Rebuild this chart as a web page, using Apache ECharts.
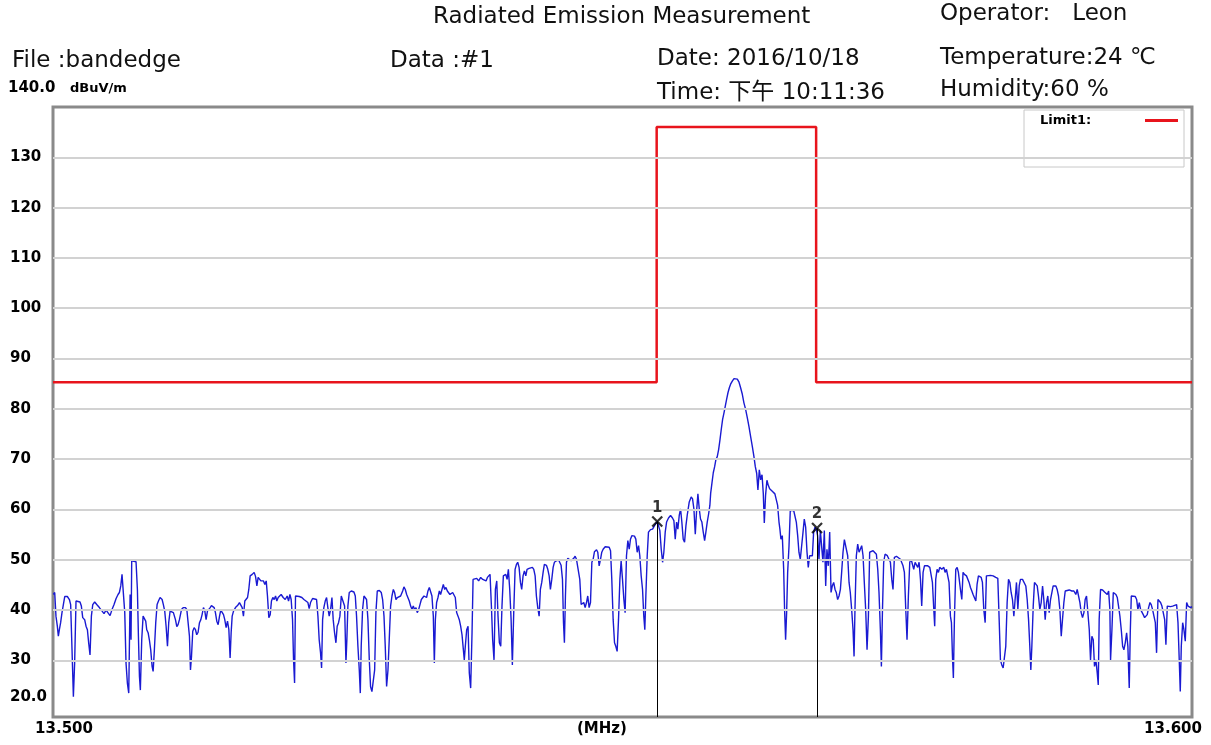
<!DOCTYPE html>
<html>
<head>
<meta charset="utf-8">
<title>Radiated Emission Measurement</title>
<script src="https://cdn.jsdelivr.net/npm/echarts@6.0.0/dist/echarts.min.js"></script>
<style>
html, body { margin: 0; padding: 0; background: #fff; }
#main { width: 1211px; height: 745px; }
</style>
</head>
<body>
<div id="main"></div>
<script>
// sweep start, MHz ; trace points are [kHz above start, dBuV/m]
var startMHz = 13.5;
var stopMHz = 13.6;
var trace = [
[0.03,43.1],[0.15,43.5],[0.26,38.8],[0.38,36.8],[0.47,34.8],[0.56,36.1],[0.67,37.5],[0.79,39.5],[0.91,41.1],[1.03,42.7],
[1.26,42.7],[1.44,42.1],[1.55,41.1],[1.67,32.1],[1.79,22.8],[1.90,29.5],[2.02,41.8],[2.37,41.6],[2.49,40.8],[2.61,38.5],
[2.78,38.1],[2.90,36.8],[3.02,36.1],[3.13,33.5],[3.25,31.1],[3.37,38.8],[3.49,41.1],[3.66,41.6],[3.84,41.1],[4.07,40.5],
[4.31,39.8],[4.48,39.3],[4.66,40.0],[4.83,40.1],[5.01,38.9],[5.18,40.1],[5.36,41.1],[5.54,42.3],[5.71,43.1],[5.83,43.5],
[5.95,44.8],[6.06,47.1],[6.18,46.8],[6.30,39.5],[6.41,29.5],[6.53,25.5],[6.65,23.5],[6.77,43.1],[6.85,34.1],[6.91,49.8],
[7.29,49.6],[7.41,44.1],[7.50,34.8],[7.59,26.8],[7.67,24.1],[7.79,34.1],[7.91,38.8],[8.03,39.1],[8.14,37.8],[8.23,36.1],
[8.35,35.5],[8.46,34.1],[8.58,32.1],[8.70,28.8],[8.79,27.8],[8.90,32.1],[9.02,37.5],[9.14,41.1],[9.26,41.8],[9.40,42.5],
[9.58,42.1],[9.69,41.1],[9.81,39.8],[9.93,36.8],[10.05,32.8],[10.16,37.5],[10.28,39.8],[10.40,40.1],[10.57,39.5],[10.75,38.1],
[10.87,36.7],[10.98,37.1],[11.10,38.1],[11.28,40.1],[11.45,40.5],[11.63,40.5],[11.75,40.1],[11.86,39.8],[11.98,34.8],[12.07,28.1],
[12.16,30.8],[12.27,35.8],[12.39,36.5],[12.51,36.1],[12.62,35.1],[12.74,35.6],[12.86,37.5],[12.98,38.1],[13.09,39.1],[13.21,40.5],
[13.33,39.8],[13.44,38.1],[13.56,39.8],[13.68,40.1],[13.80,40.5],[13.91,40.9],[14.03,41.1],[14.15,40.5],[14.26,39.5],[14.38,37.8],
[14.50,37.1],[14.62,38.8],[14.73,40.0],[14.85,39.8],[14.97,39.1],[15.08,38.1],[15.20,36.5],[15.32,37.8],[15.44,36.1],[15.55,30.5],
[15.64,35.5],[15.73,38.8],[15.85,39.8],[16.02,40.5],[16.20,40.9],[16.37,41.5],[16.49,41.8],[16.61,40.5],[16.72,38.8],[16.84,41.8],
[16.96,42.1],[17.08,42.5],[17.19,44.1],[17.31,46.8],[17.49,47.1],[17.66,47.5],[17.78,46.7],[17.90,44.8],[18.01,46.5],[18.13,46.7],
[18.25,45.8],[18.37,46.1],[18.48,45.8],[18.60,45.1],[18.72,45.8],[18.83,42.8],[18.95,38.5],[19.07,39.1],[19.18,41.8],[19.30,42.5],
[19.42,42.1],[19.54,42.8],[19.65,41.8],[19.77,42.5],[19.89,42.8],
[20.03,43.1],[20.21,42.5],[20.39,42.1],[20.56,42.8],[20.68,41.8],[20.80,43.1],[20.91,42.1],[21.03,38.1],[21.12,30.1],[21.21,25.5],
[21.29,42.8],[21.44,42.9],[21.62,42.7],[21.85,42.5],[22.03,42.1],[22.20,41.8],[22.38,41.5],[22.49,40.3],[22.61,41.5],[22.79,42.3],
[22.96,42.1],[23.14,42.1],[23.26,38.8],[23.37,34.1],[23.49,31.5],[23.58,28.5],[23.67,38.1],[23.78,40.5],[23.90,41.8],[24.02,42.5],
[24.13,40.5],[24.25,38.8],[24.37,40.1],[24.49,42.5],[24.60,38.1],[24.72,35.5],[24.84,33.5],[24.95,36.8],[25.07,37.5],[25.19,38.8],
[25.31,42.8],[25.48,43.1],[25.60,40.8],[25.72,29.5],[25.80,34.1],[25.89,40.8],[26.01,43.5],[26.19,43.8],[26.42,43.6],[26.54,42.8],
[26.65,38.8],[26.77,32.8],[26.89,28.1],[26.98,23.5],[27.06,32.8],[27.18,40.1],[27.30,42.8],[27.41,43.1],[27.53,42.1],[27.65,38.1],
[27.77,30.1],[27.88,24.8],[28.00,23.8],[28.12,23.5],[28.24,28.1],[28.35,39.5],[28.47,43.8],[28.65,43.9],[28.82,43.5],[28.94,42.1],
[29.06,38.8],[29.17,32.8],[29.29,24.8],[29.41,28.1],[29.52,34.1],[29.64,40.8],[29.76,42.8],[29.88,44.1],[29.99,43.5],[30.11,42.1],
[30.23,42.5],[30.34,42.8],[30.52,42.8],[30.70,43.8],[30.81,44.6],[30.93,44.1],[31.05,43.1],[31.16,42.8],[31.28,41.8],[31.40,40.8],
[31.52,40.1],[31.63,40.8],[31.75,40.1],[31.87,40.5],[31.98,39.5],[32.10,40.1],[32.22,41.1],[32.34,42.1],[32.45,41.8],[32.57,42.8],
[32.69,43.1],[32.80,42.5],[32.92,43.8],[33.04,44.5],[33.16,44.8],[33.27,42.8],[33.39,38.8],[33.48,29.5],[33.57,38.1],[33.68,41.5],
[33.80,42.5],[33.92,43.8],[34.03,43.1],[34.15,44.1],[34.27,45.1],[34.39,44.1],[34.50,44.5],[34.62,43.8],[34.74,44.1],[34.85,43.1],
[34.97,42.8],[35.09,43.5],[35.21,43.8],[35.32,42.5],[35.44,39.5],[35.56,38.8],[35.67,38.1],[35.79,36.8],[35.91,35.1],[36.03,32.1],
[36.11,30.1],[36.20,32.8],[36.32,36.1],[36.44,36.8],[36.55,27.5],[36.67,24.5],[36.79,35.5],[36.88,46.1],[37.02,45.8],[37.20,46.3],
[37.37,45.8],[37.55,46.5],[37.73,46.1],[37.90,46.3],[38.02,45.8],[38.14,46.5],[38.25,46.8],[38.37,47.1],[38.49,40.8],[38.60,34.1],
[38.72,30.1],[38.84,44.1],[38.96,45.8],[39.07,38.8],[39.19,33.5],[39.31,32.8],[39.42,40.8],[39.54,46.8],[39.66,46.5],
[39.75,47.1],[39.87,46.1],[39.98,48.1],[40.10,44.1],[40.22,38.1],[40.33,29.1],[40.45,39.5],[40.57,48.1],[40.69,49.1],[40.80,49.5],
[40.92,48.5],[41.04,45.5],[41.15,44.1],[41.27,46.8],[41.39,47.8],[41.51,46.8],[41.62,48.1],[41.80,48.3],[41.97,48.1],[42.09,48.5],
[42.21,48.1],[42.33,46.8],[42.44,42.8],[42.56,40.5],[42.68,38.8],[42.79,44.1],[42.91,45.5],[43.03,47.5],[43.14,49.1],[43.32,48.9],
[43.44,48.1],[43.56,46.8],[43.67,44.1],[43.79,46.1],[43.91,48.5],[44.02,49.5],[44.20,49.8],[44.38,50.0],[44.49,49.8],[44.61,48.9],
[44.73,46.1],[44.82,37.5],[44.90,33.5],[44.99,42.8],[45.08,49.5],[45.20,50.3],[45.37,50.0],[45.49,49.8],[45.61,50.1],[45.72,50.3],
[45.84,50.7],[45.96,50.1],[46.13,49.8],[46.25,46.1],[46.37,41.1],[46.49,40.8],[46.60,41.5],[46.72,40.5],[46.84,41.5],[46.95,42.8],
[47.07,40.5],[47.19,41.5],[47.31,49.5],[47.42,50.1],[47.54,51.6],[47.72,52.0],[47.83,51.5],[47.95,48.8],[48.07,50.1],[48.18,51.5],
[48.30,52.1],[48.48,52.6],[48.65,52.8],[48.83,52.5],[48.95,51.8],[49.06,46.1],[49.18,38.1],[49.30,33.5],[49.41,32.8],[49.53,31.8],
[49.65,38.1],[49.77,46.1],[49.88,49.8],[50.00,46.1],[50.12,42.1],[50.23,39.5],[50.35,50.8],[50.47,53.8],[50.59,52.1],[50.70,54.1],
[50.82,54.8],[50.94,54.9],[51.05,54.7],[51.17,54.1],[51.29,51.5],[51.41,52.8],[51.52,50.8],[51.64,46.8],[51.76,44.1],[51.87,38.8],
[51.96,36.1],[52.05,42.8],[52.17,50.8],[52.28,55.5],[52.46,56.0],[52.64,56.1],[52.81,56.8],[52.93,57.1],[53.05,57.6],[53.16,56.8],
[53.28,55.8],[53.40,52.1],[53.52,49.5],[53.63,51.5],[53.75,55.5],[53.87,57.5],[54.04,58.3],[54.22,58.8],[54.39,58.3],[54.51,57.8],
[54.63,54.1],[54.75,57.5],[54.86,56.1],[54.98,58.8],[55.10,60.1],[55.21,57.5],[55.33,54.1],[55.45,53.5],[55.57,56.8],[55.68,58.8],
[55.86,61.5],[56.03,62.5],[56.15,62.1],[56.27,60.1],[56.39,55.1],[56.50,59.5],[56.62,63.1],[56.74,60.1],[56.85,58.1],[56.97,57.5],
[57.09,55.5],[57.21,53.8],[57.32,55.5],[57.44,57.5],[57.56,59.1],[57.67,60.8],
[57.74,63.2],[57.85,65.2],[57.97,67.3],[58.09,68.5],[58.20,69.9],[58.32,70.5],[58.44,71.9],[58.56,73.9],[58.67,75.9],[58.79,77.9],
[58.91,79.2],[59.02,80.5],[59.14,81.9],[59.26,83.2],[59.38,84.2],[59.49,84.9],[59.64,85.5],[59.79,86.0],[59.93,86.2],[60.08,85.9],
[60.23,85.3],[60.37,84.2],[60.52,82.9],[60.66,81.2],[60.81,79.9],[60.96,78.2],[61.10,76.5],[61.25,74.5],[61.40,72.5],[61.54,70.5],
[61.66,68.5],[61.78,67.2],[61.89,63.9],[62.01,67.9],[62.13,65.9],[62.25,66.9],[62.36,63.2],[62.45,57.3],
[62.56,62.8],[62.68,65.8],[62.80,64.8],[62.92,64.1],[63.03,63.8],[63.15,63.6],[63.27,63.3],[63.38,63.1],[63.50,62.8],[63.62,60.8],
[63.74,57.5],[63.82,56.1],[63.91,54.1],[64.03,54.8],[64.15,48.1],[64.23,40.1],[64.32,34.1],[64.41,39.5],[64.50,47.5],[64.62,52.8],
[64.73,59.8],[64.85,60.0],[65.03,59.8],[65.14,59.5],[65.26,57.5],[65.38,54.8],[65.49,51.5],[65.61,50.1],[65.73,52.8],[65.85,55.5],
[65.96,58.1],[66.08,56.5],[66.20,51.5],[66.31,48.5],[66.43,50.8],[66.55,51.1],[66.67,50.8],[66.78,55.5],[66.90,56.5],[67.02,56.1],
[67.08,56.3],[67.13,54.8],[67.25,50.1],[67.37,55.8],[67.49,55.5],[67.60,49.5],[67.72,55.8],[67.84,44.8],[67.95,52.1],[68.07,48.8],
[68.19,55.5],[68.31,43.5],[68.42,44.8],[68.54,45.5],[68.66,44.1],[68.77,43.5],[68.89,42.1],[69.01,42.8],[69.13,44.1],[69.24,47.5],
[69.36,51.5],[69.48,54.0],[69.65,53.8],[69.77,50.8],[69.89,45.5],[70.00,43.5],[70.12,40.1],[70.24,36.1],[70.33,30.8],[70.41,40.1],
[70.53,50.8],[70.65,53.1],[70.77,51.5],[70.88,52.1],[71.00,52.8],[71.12,50.8],[71.23,45.5],[71.35,40.1],[71.47,32.1],[71.59,38.8],
[71.70,51.5],[71.82,51.8],[72.00,51.8],[72.17,51.6],[72.29,51.1],[72.41,48.1],[72.52,43.5],[72.64,36.1],[72.73,28.8],[72.82,39.5],
[72.93,49.5],[73.05,51.1],[73.23,50.9],[73.40,50.8],[73.52,49.5],[73.64,46.1],[73.75,44.1],[73.87,50.5],[74.05,50.7],[74.22,50.5],
[74.40,50.1],[74.52,50.1],[74.63,48.8],[74.75,47.5],[74.87,40.1],[74.98,34.1],[75.10,42.8],[75.22,49.5],[75.34,50.1],[75.45,49.8],
[75.57,48.1],[75.69,49.5],[75.80,49.8],[75.92,48.5],[76.04,49.5],[76.16,46.1],[76.27,40.8],[76.39,47.5],[76.51,48.8],[76.62,49.1],
[76.80,48.8],[76.98,48.5],[77.09,48.8],[77.21,45.5],[77.33,40.1],[77.41,36.8],[77.50,46.1],[77.62,48.1],[77.74,47.5],[77.85,48.5],
[78.03,48.1],[78.21,48.5],[78.32,47.5],[78.44,48.1],[78.56,48.1],[78.67,45.5],[78.79,38.8],[78.88,37.5],[78.97,30.8],[79.05,26.5],
[79.14,38.1],[79.26,48.1],[79.38,48.5],[79.49,47.5],
[79.55,47.8],[79.67,44.1],[79.79,42.1],[79.90,47.5],[80.02,47.1],[80.20,46.8],[80.31,46.5],[80.43,45.5],[80.55,44.5],[80.67,43.8],
[80.78,43.1],[80.90,42.8],[81.02,41.8],[81.13,45.1],[81.25,46.8],[81.37,46.8],[81.49,46.5],[81.60,45.5],[81.72,40.1],[81.84,37.5],
[81.95,46.8],[82.07,47.1],[82.31,46.9],[82.54,46.8],[82.77,46.5],[82.95,46.3],[83.07,38.1],[83.18,30.1],[83.30,29.1],[83.42,28.5],
[83.54,28.5],[83.65,32.8],[83.77,41.5],[83.89,46.1],[84.01,45.5],[84.12,43.5],[84.24,42.1],[84.36,38.8],[84.47,42.1],[84.59,45.5],
[84.71,40.1],[84.83,44.8],[84.94,46.1],[85.12,46.1],[85.29,45.8],[85.41,44.8],[85.53,42.1],[85.65,38.1],[85.76,32.8],[85.85,28.1],
[85.94,32.8],[86.06,40.8],[86.17,45.5],[86.29,45.5],[86.41,44.8],[86.52,42.8],[86.64,40.1],[86.76,41.5],[86.88,44.8],[86.99,42.1],
[87.11,38.1],[87.23,41.5],[87.34,42.8],[87.46,39.5],[87.58,42.1],[87.70,43.5],[87.81,44.8],[87.93,45.1],[88.05,44.8],[88.16,44.1],
[88.28,42.8],[88.40,40.1],[88.52,34.8],[88.63,38.1],[88.75,41.5],[88.87,43.8],[88.98,44.0],[89.22,44.0],[89.45,43.8],[89.63,43.8],
[89.80,43.1],[89.92,44.1],[90.04,42.8],[90.16,41.5],[90.27,39.5],[90.39,38.5],[90.51,39.5],[90.62,42.1],[90.74,42.8],[90.86,43.1],
[90.98,36.1],[91.09,30.1],[91.21,34.8],[91.33,34.1],[91.44,28.8],[91.56,30.1],[91.68,27.5],[91.77,25.1],[91.85,38.1],[91.97,44.1],
[92.15,44.0],[92.32,43.6],[92.44,43.5],[92.56,43.1],[92.68,43.8],[92.79,40.1],[92.85,30.1],[92.97,36.1],[93.09,43.5],[93.20,43.8],
[93.32,43.1],[93.44,42.5],[93.55,40.8],[93.67,38.8],[93.79,36.1],[93.91,32.8],[94.02,32.1],[94.14,33.5],[94.26,35.5],[94.37,32.8],
[94.49,24.5],[94.58,35.5],[94.67,42.8],[94.84,42.8],[95.02,42.7],[95.14,42.1],[95.25,40.1],[95.37,41.5],[95.49,40.1],[95.60,39.8],
[95.72,39.1],[95.84,38.5],[95.96,38.5],[96.07,39.1],[96.19,40.5],[96.31,41.5],[96.42,41.1],[96.54,40.1],[96.66,38.8],[96.78,37.5],
[96.89,31.5],[97.01,42.1],[97.13,42.1],[97.24,41.5],[97.36,40.8],[97.48,41.1],[97.60,38.1],[97.71,33.1],[97.83,40.8],[97.95,40.7],
[98.12,40.7],[98.30,40.8],[98.47,40.9],[98.65,41.1],[98.77,37.5],[98.88,30.1],[98.97,23.8],[99.06,32.8],[99.18,37.5],[99.29,36.1],
[99.41,33.8],[99.53,41.5],[99.65,40.8],[99.76,41.1],[99.88,40.5],[100.0,40.7]
];

// limit line Limit1
var limitFreq = [13.5, 13.553, 13.553, 13.567, 13.567, 13.6];
var limitLevel = [85.3, 85.3, 136.0, 136.0, 85.3, 85.3];

// markers
var markerName = ['1', '2'];
var markerFreq = [13.55305, 13.56708];
var markerLevel = [57.6, 56.3];

// level axis
var yMin = 18.75;
var yMax = 140;
var yLabels = [20, 30, 40, 50, 60, 70, 80, 90, 100, 110, 120, 130];
var gridLevels = [30, 40, 50, 60, 70, 80, 90, 100, 110, 120, 130];

var dom = document.getElementById("main");
var myChart = echarts.init(dom, null, { renderer: 'canvas' });

var hdrFont = '"DejaVu Sans", "Noto Sans CJK SC", sans-serif';
var boldFont = '"DejaVu Sans", "Liberation Sans", sans-serif';
function hdr(text, left, top) {
    return {
        text: text, left: left, top: top, padding: 0,
        textStyle: { fontFamily: hdrFont, fontSize: 23, fontWeight: 'normal', color: '#111' }
    };
}

var traceData = [];
for (var i = 0; i < trace.length; i++) {
    traceData.push([startMHz + trace[i][0] / 1000, trace[i][1]]);
}
var limitData = [];
for (var j = 0; j < limitFreq.length; j++) {
    limitData.push([limitFreq[j], limitLevel[j]]);
}
var markerData = [];
var markerLines = [];
for (var m = 0; m < markerName.length; m++) {
    markerData.push({ name: markerName[m], value: [markerFreq[m], markerLevel[m]] });
    markerLines.push([{ coord: [markerFreq[m], markerLevel[m]] }, { coord: [markerFreq[m], yMin] }]);
}
var gridLineData = [];
for (var g = 0; g < gridLevels.length; g++) {
    gridLineData.push({ yAxis: gridLevels[g] });
}

var option = {
    backgroundColor: '#fff',
    animation: false,
    title: [
        hdr('Radiated Emission Measurement', 433, 6),
        hdr('Operator:   Leon', 940, 3),
        hdr('File :bandedge', 12, 50),
        hdr('Data :#1', 390, 50),
        hdr('Date: 2016/10/18', 657, 48),
        hdr('Temperature:24 \u2103', 940, 47),
        hdr('Time: \u4e0b\u5348 10:11:36', 657, 82),
        hdr('Humidity:60 %', 940, 79),
        { text: '140.0', left: 8, top: 81, padding: 0,
          textStyle: { fontFamily: boldFont, fontSize: 15, fontWeight: 'bold', color: '#000' } },
        { text: 'dBuV/m', left: 70, top: 82, padding: 0,
          textStyle: { fontFamily: boldFont, fontSize: 13, fontWeight: 'bold', color: '#000' } },
        { text: '(MHz)', left: 577, top: 722, padding: 0,
          textStyle: { fontFamily: boldFont, fontSize: 15, fontWeight: 'bold', color: '#000' } }
    ],
    legend: {
        data: [{ name: 'Limit1:', icon: 'rect' }],
        right: 27,
        top: 110,
        orient: 'vertical',
        align: 'right',
        backgroundColor: '#fff',
        borderColor: '#c8c8c8',
        borderWidth: 1,
        borderRadius: 0,
        padding: [4, 6, 40, 16],
        itemWidth: 33,
        itemHeight: 3,
        itemGap: 5,
        selectedMode: false,
        formatter: function (name) {
            return '{a|' + name + '}';
        },
        textStyle: {
            rich: {
                a: { fontFamily: boldFont, fontSize: 13, fontWeight: 'bold', color: '#000', width: 100, align: 'left' }
            }
        }
    },
    grid: {
        left: 53,
        right: 19,
        top: 107,
        bottom: 28,
        show: true,
        borderColor: '#8a8a8a',
        borderWidth: 3,
        backgroundColor: '#fff'
    },
    xAxis: {
        type: 'value',
        min: startMHz,
        max: stopMHz,
        axisLine: { show: false },
        axisTick: { show: false },
        splitLine: { show: false },
        axisLabel: {
            customValues: [startMHz, stopMHz],
            margin: 5,
            formatter: function (v) {
                return v < 13.55 ? '{lo|' + v.toFixed(3) + '}' : '{hi|' + v.toFixed(3) + '}';
            },
            rich: {
                lo: { fontFamily: boldFont, fontSize: 15, fontWeight: 'bold', color: '#000', padding: [0, 0, 0, 22] },
                hi: { fontFamily: boldFont, fontSize: 15, fontWeight: 'bold', color: '#000', padding: [0, 38, 0, 0] }
            }
        }
    },
    yAxis: {
        type: 'value',
        min: yMin,
        max: yMax,
        axisLine: { show: false },
        axisTick: { show: false },
        splitLine: { show: false },
        axisLabel: {
            customValues: yLabels,
            align: 'left',
            margin: 43,
            formatter: function (v) {
                return v === 20 ? '{low|20.0}' : '{n|' + v + '}';
            },
            rich: {
                n: { fontFamily: boldFont, fontSize: 15, fontWeight: 'bold', color: '#000' },
                low: { fontFamily: boldFont, fontSize: 15, fontWeight: 'bold', color: '#000', padding: [0, 0, 27, 0] }
            }
        }
    },
    series: [
        {
            name: 'grid',
            type: 'line',
            data: [],
            z: 1,
            silent: true,
            markLine: {
                silent: true,
                symbol: 'none',
                label: { show: false },
                lineStyle: { color: '#d2d2d2', width: 2, type: 'solid' },
                data: gridLineData
            }
        },
        {
            name: 'Limit1:',
            type: 'line',
            data: limitData,
            symbol: 'none',
            z: 3,
            lineStyle: { color: '#e8141c', width: 2.5 },
            itemStyle: { color: '#e8141c' }
        },
        {
            name: 'trace',
            type: 'line',
            data: traceData,
            symbol: 'none',
            z: 4,
            lineStyle: { color: '#1a1ad2', width: 1.4 }
        },
        {
            name: 'marker',
            type: 'scatter',
            data: markerData,
            z: 5,
            symbol: 'path://M0 0L10 10M10 0L0 10',
            symbolSize: 10,
            itemStyle: { color: 'rgba(0,0,0,0)', borderColor: '#000', borderWidth: 2.2 },
            label: {
                show: true,
                position: 'top',
                distance: 0,
                formatter: '{b}',
                fontFamily: boldFont,
                fontSize: 15,
                fontWeight: 'bold',
                color: '#000'
            },
            markLine: {
                silent: true,
                symbol: 'none',
                label: { show: false },
                lineStyle: { color: '#000', width: 1, type: 'solid' },
                data: markerLines
            }
        }
    ]
};

if (option && typeof option === "object") {
    myChart.setOption(option, true);
}
</script>
</body>
</html>
